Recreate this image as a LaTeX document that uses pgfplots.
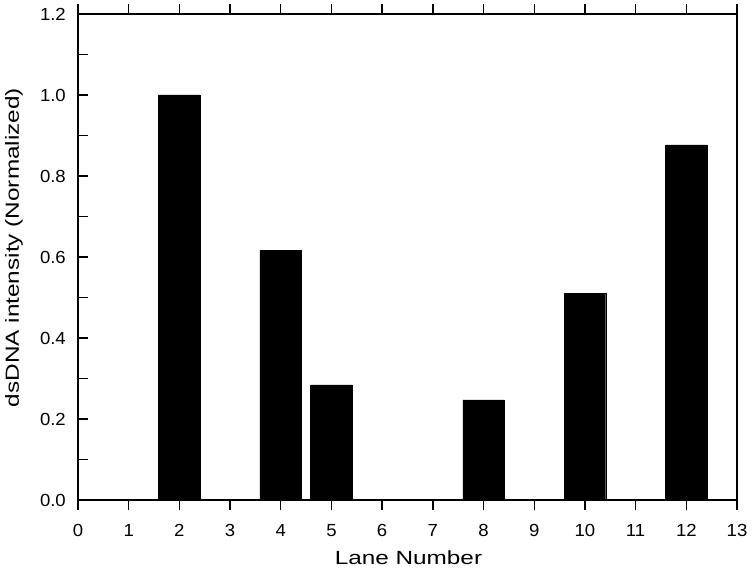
\documentclass[border=0pt]{standalone}
\usepackage{pgfplots}
\pgfplotsset{compat=1.18}
\usepackage{fontspec}
\setmainfont{Liberation Sans}
\newfontfamily\tickfont{Liberation Sans}[FakeStretch=1.06]
\newfontfamily\labfont{Liberation Sans}[FakeStretch=1.28]
\begin{document}
\begin{tikzpicture}
\begin{axis}[
  at={(0,0)}, anchor=south west,
  scale only axis,
  width=659pt, height=486pt,
  xmin=0, xmax=13, ymin=0, ymax=1.2,
  xtick={0,1,...,13},
  ytick={0,0.2,...,1.2},
  minor ytick={0.1,0.3,...,1.1},
  tick align=inside,
  xtick pos=both,
  ytick pos=left,
  major tick length=10pt,
  minor tick length=10pt,
  axis line style={line width=1.4pt},
  every tick/.style={line width=1.4pt, black},
  /pgf/number format/assume math mode=true,
  yticklabel style={font=\tickfont\fontsize{17.5}{20}\selectfont, anchor=east, inner xsep=0pt, xshift=-12pt,
    /pgf/number format/.cd, fixed, fixed zerofill, precision=1},
  xticklabel style={font=\tickfont\fontsize{17.5}{20}\selectfont, anchor=base, yshift=-26pt, inner sep=0pt},
  xlabel={Lane Number},
  ylabel={dsDNA intensity (Normalized)},
  xlabel style={font=\labfont\fontsize{19}{22}\selectfont, at={(axis description cs:0.5015,-0.1337)}, anchor=base, inner sep=0pt},
  ylabel style={font=\labfont\fontsize{19}{22}\selectfont, at={(axis description cs:-0.0971,0.5195)}, anchor=center, inner sep=0pt},
  ybar, bar width=0.82, bar shift=0pt,
]
\addplot[fill=black, draw=black] coordinates {
(2,1.0) (4,0.617) (5,0.284) (8,0.247) (10,0.511) (12,0.877)
};
\end{axis}
\pgfresetboundingbox
\path (-78pt,-70pt) rectangle (676pt,500pt);
\end{tikzpicture}
\end{document}
